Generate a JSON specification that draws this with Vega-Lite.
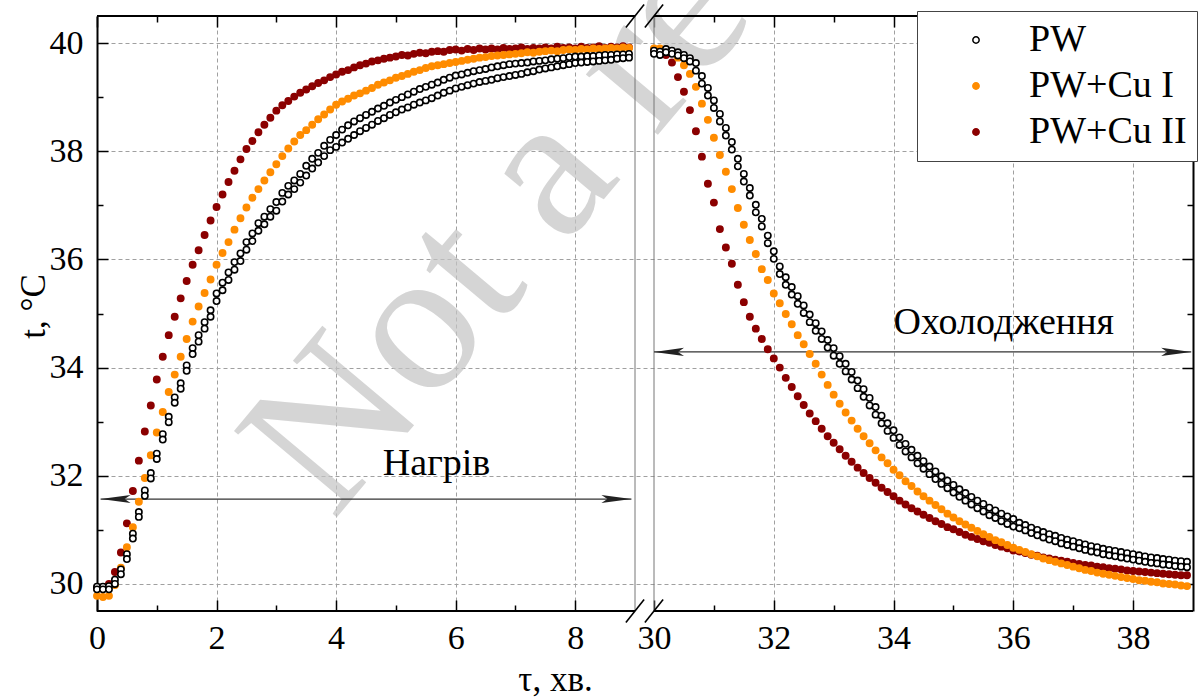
{
"$schema":"https://vega.github.io/schema/vega-lite/v6.json",
"width":1096,"height":595,
"autosize":{"type":"none"},
"padding":{"left":97,"top":16,"right":7,"bottom":89},
"background":"white",
"config":{"view":{"stroke":null},"font":"Liberation Serif"},
"datasets":{
"pts":[
{"s":"Cu2","x":0,"t":29.92},{"s":"Cu2","x":0.1,"t":29.93},{"s":"Cu2","x":0.2,"t":30.0},{"s":"Cu2","x":0.3,"t":30.22},{"s":"Cu2","x":0.4,"t":30.58},{"s":"Cu2","x":0.5,"t":31.12},{"s":"Cu2","x":0.6,"t":31.72},{"s":"Cu2","x":0.7,"t":32.28},{"s":"Cu2","x":0.8,"t":32.82},{"s":"Cu2","x":0.9,"t":33.3},
{"s":"Cu2","x":1.0,"t":33.78},{"s":"Cu2","x":1.1,"t":34.2},{"s":"Cu2","x":1.2,"t":34.6},{"s":"Cu2","x":1.3,"t":34.94},{"s":"Cu2","x":1.4,"t":35.28},{"s":"Cu2","x":1.5,"t":35.6},{"s":"Cu2","x":1.6,"t":35.9},{"s":"Cu2","x":1.7,"t":36.17},{"s":"Cu2","x":1.8,"t":36.45},{"s":"Cu2","x":1.9,"t":36.72},
{"s":"Cu2","x":2.0,"t":36.97},{"s":"Cu2","x":2.1,"t":37.2},{"s":"Cu2","x":2.2,"t":37.43},{"s":"Cu2","x":2.3,"t":37.64},{"s":"Cu2","x":2.4,"t":37.85},{"s":"Cu2","x":2.5,"t":38.04},{"s":"Cu2","x":2.6,"t":38.19},{"s":"Cu2","x":2.7,"t":38.35},{"s":"Cu2","x":2.8,"t":38.49},{"s":"Cu2","x":2.9,"t":38.62},
{"s":"Cu2","x":3.0,"t":38.75},{"s":"Cu2","x":3.1,"t":38.85},{"s":"Cu2","x":3.2,"t":38.93},{"s":"Cu2","x":3.3,"t":39.01},{"s":"Cu2","x":3.4,"t":39.08},{"s":"Cu2","x":3.5,"t":39.14},{"s":"Cu2","x":3.6,"t":39.2},{"s":"Cu2","x":3.7,"t":39.26},{"s":"Cu2","x":3.8,"t":39.31},{"s":"Cu2","x":3.9,"t":39.37},
{"s":"Cu2","x":4.0,"t":39.42},{"s":"Cu2","x":4.1,"t":39.47},{"s":"Cu2","x":4.2,"t":39.5},{"s":"Cu2","x":4.3,"t":39.55},{"s":"Cu2","x":4.4,"t":39.59},{"s":"Cu2","x":4.5,"t":39.62},{"s":"Cu2","x":4.6,"t":39.66},{"s":"Cu2","x":4.7,"t":39.68},{"s":"Cu2","x":4.8,"t":39.71},{"s":"Cu2","x":4.9,"t":39.73},
{"s":"Cu2","x":5.0,"t":39.75},{"s":"Cu2","x":5.1,"t":39.78},{"s":"Cu2","x":5.2,"t":39.77},{"s":"Cu2","x":5.3,"t":39.8},{"s":"Cu2","x":5.4,"t":39.82},{"s":"Cu2","x":5.5,"t":39.81},{"s":"Cu2","x":5.6,"t":39.84},{"s":"Cu2","x":5.7,"t":39.85},{"s":"Cu2","x":5.8,"t":39.84},{"s":"Cu2","x":5.9,"t":39.87},
{"s":"Cu2","x":6.0,"t":39.88},{"s":"Cu2","x":6.1,"t":39.86},{"s":"Cu2","x":6.2,"t":39.89},{"s":"Cu2","x":6.3,"t":39.87},{"s":"Cu2","x":6.4,"t":39.9},{"s":"Cu2","x":6.5,"t":39.88},{"s":"Cu2","x":6.6,"t":39.9},{"s":"Cu2","x":6.7,"t":39.88},{"s":"Cu2","x":6.8,"t":39.91},{"s":"Cu2","x":6.9,"t":39.89},
{"s":"Cu2","x":7.0,"t":39.9},{"s":"Cu2","x":7.1,"t":39.92},{"s":"Cu2","x":7.2,"t":39.89},{"s":"Cu2","x":7.3,"t":39.91},{"s":"Cu2","x":7.4,"t":39.9},{"s":"Cu2","x":7.5,"t":39.92},{"s":"Cu2","x":7.6,"t":39.9},{"s":"Cu2","x":7.7,"t":39.93},{"s":"Cu2","x":7.8,"t":39.91},{"s":"Cu2","x":7.9,"t":39.92},
{"s":"Cu2","x":8.0,"t":39.9},{"s":"Cu2","x":8.1,"t":39.93},{"s":"Cu2","x":8.2,"t":39.91},{"s":"Cu2","x":8.3,"t":39.92},{"s":"Cu2","x":8.4,"t":39.94},{"s":"Cu2","x":8.5,"t":39.91},{"s":"Cu2","x":8.6,"t":39.93},{"s":"Cu2","x":8.7,"t":39.92},{"s":"Cu2","x":8.8,"t":39.94},{"s":"Cu2","x":8.9,"t":39.92},
{"s":"Cu2","x":30.0,"t":39.88},{"s":"Cu2","x":30.1,"t":39.86},{"s":"Cu2","x":30.2,"t":39.78},{"s":"Cu2","x":30.3,"t":39.64},{"s":"Cu2","x":30.4,"t":39.37},{"s":"Cu2","x":30.5,"t":39.1},{"s":"Cu2","x":30.6,"t":38.76},{"s":"Cu2","x":30.7,"t":38.37},{"s":"Cu2","x":30.8,"t":37.9},{"s":"Cu2","x":30.9,"t":37.4},
{"s":"Cu2","x":31.0,"t":37.05},{"s":"Cu2","x":31.1,"t":36.56},{"s":"Cu2","x":31.2,"t":36.22},{"s":"Cu2","x":31.3,"t":35.92},{"s":"Cu2","x":31.4,"t":35.53},{"s":"Cu2","x":31.5,"t":35.21},{"s":"Cu2","x":31.6,"t":34.94},{"s":"Cu2","x":31.7,"t":34.72},{"s":"Cu2","x":31.8,"t":34.53},{"s":"Cu2","x":31.9,"t":34.34},
{"s":"Cu2","x":32.0,"t":34.17},{"s":"Cu2","x":32.1,"t":34.0},{"s":"Cu2","x":32.2,"t":33.81},{"s":"Cu2","x":32.3,"t":33.64},{"s":"Cu2","x":32.4,"t":33.47},{"s":"Cu2","x":32.5,"t":33.31},{"s":"Cu2","x":32.6,"t":33.15},{"s":"Cu2","x":32.7,"t":33.01},{"s":"Cu2","x":32.8,"t":32.87},{"s":"Cu2","x":32.9,"t":32.73},
{"s":"Cu2","x":33.0,"t":32.61},{"s":"Cu2","x":33.1,"t":32.49},{"s":"Cu2","x":33.2,"t":32.37},{"s":"Cu2","x":33.3,"t":32.26},{"s":"Cu2","x":33.4,"t":32.15},{"s":"Cu2","x":33.5,"t":32.05},{"s":"Cu2","x":33.6,"t":31.96},{"s":"Cu2","x":33.7,"t":31.87},{"s":"Cu2","x":33.8,"t":31.78},{"s":"Cu2","x":33.9,"t":31.7},
{"s":"Cu2","x":34.0,"t":31.62},{"s":"Cu2","x":34.1,"t":31.54},{"s":"Cu2","x":34.2,"t":31.47},{"s":"Cu2","x":34.3,"t":31.4},{"s":"Cu2","x":34.4,"t":31.34},{"s":"Cu2","x":34.5,"t":31.28},{"s":"Cu2","x":34.6,"t":31.22},{"s":"Cu2","x":34.7,"t":31.16},{"s":"Cu2","x":34.8,"t":31.11},{"s":"Cu2","x":34.9,"t":31.05},
{"s":"Cu2","x":35.0,"t":31.01},{"s":"Cu2","x":35.1,"t":30.96},{"s":"Cu2","x":35.2,"t":30.91},{"s":"Cu2","x":35.3,"t":30.87},{"s":"Cu2","x":35.4,"t":30.83},{"s":"Cu2","x":35.5,"t":30.79},{"s":"Cu2","x":35.6,"t":30.76},{"s":"Cu2","x":35.7,"t":30.72},{"s":"Cu2","x":35.8,"t":30.69},{"s":"Cu2","x":35.9,"t":30.66},
{"s":"Cu2","x":36.0,"t":30.62},{"s":"Cu2","x":36.1,"t":30.6},{"s":"Cu2","x":36.2,"t":30.57},{"s":"Cu2","x":36.3,"t":30.54},{"s":"Cu2","x":36.4,"t":30.52},{"s":"Cu2","x":36.5,"t":30.49},{"s":"Cu2","x":36.6,"t":30.47},{"s":"Cu2","x":36.7,"t":30.45},{"s":"Cu2","x":36.8,"t":30.43},{"s":"Cu2","x":36.9,"t":30.41},
{"s":"Cu2","x":37.0,"t":30.39},{"s":"Cu2","x":37.1,"t":30.37},{"s":"Cu2","x":37.2,"t":30.35},{"s":"Cu2","x":37.3,"t":30.34},{"s":"Cu2","x":37.4,"t":30.32},{"s":"Cu2","x":37.5,"t":30.31},{"s":"Cu2","x":37.6,"t":30.29},{"s":"Cu2","x":37.7,"t":30.28},{"s":"Cu2","x":37.8,"t":30.27},{"s":"Cu2","x":37.9,"t":30.25},
{"s":"Cu2","x":38.0,"t":30.24},{"s":"Cu2","x":38.1,"t":30.23},{"s":"Cu2","x":38.2,"t":30.22},{"s":"Cu2","x":38.3,"t":30.21},{"s":"Cu2","x":38.4,"t":30.2},{"s":"Cu2","x":38.5,"t":30.19},{"s":"Cu2","x":38.6,"t":30.18},{"s":"Cu2","x":38.7,"t":30.17},{"s":"Cu2","x":38.8,"t":30.16},{"s":"Cu2","x":38.9,"t":30.16},
{"s":"Cu1","x":0,"t":29.78},{"s":"Cu1","x":0.1,"t":29.76},{"s":"Cu1","x":0.2,"t":29.78},{"s":"Cu1","x":0.3,"t":29.98},{"s":"Cu1","x":0.4,"t":30.3},{"s":"Cu1","x":0.5,"t":30.68},{"s":"Cu1","x":0.6,"t":31.05},{"s":"Cu1","x":0.7,"t":31.52},{"s":"Cu1","x":0.8,"t":31.96},{"s":"Cu1","x":0.9,"t":32.38},
{"s":"Cu1","x":1.0,"t":32.8},{"s":"Cu1","x":1.1,"t":33.18},{"s":"Cu1","x":1.2,"t":33.55},{"s":"Cu1","x":1.3,"t":33.87},{"s":"Cu1","x":1.4,"t":34.2},{"s":"Cu1","x":1.5,"t":34.53},{"s":"Cu1","x":1.6,"t":34.85},{"s":"Cu1","x":1.7,"t":35.13},{"s":"Cu1","x":1.8,"t":35.38},{"s":"Cu1","x":1.9,"t":35.63},
{"s":"Cu1","x":2.0,"t":35.9},{"s":"Cu1","x":2.1,"t":36.12},{"s":"Cu1","x":2.2,"t":36.32},{"s":"Cu1","x":2.3,"t":36.55},{"s":"Cu1","x":2.4,"t":36.76},{"s":"Cu1","x":2.5,"t":36.96},{"s":"Cu1","x":2.6,"t":37.14},{"s":"Cu1","x":2.7,"t":37.3},{"s":"Cu1","x":2.8,"t":37.46},{"s":"Cu1","x":2.9,"t":37.61},
{"s":"Cu1","x":3.0,"t":37.76},{"s":"Cu1","x":3.1,"t":37.91},{"s":"Cu1","x":3.2,"t":38.05},{"s":"Cu1","x":3.3,"t":38.18},{"s":"Cu1","x":3.4,"t":38.3},{"s":"Cu1","x":3.5,"t":38.39},{"s":"Cu1","x":3.6,"t":38.49},{"s":"Cu1","x":3.7,"t":38.59},{"s":"Cu1","x":3.8,"t":38.68},{"s":"Cu1","x":3.9,"t":38.77},
{"s":"Cu1","x":4.0,"t":38.86},{"s":"Cu1","x":4.1,"t":38.92},{"s":"Cu1","x":4.2,"t":38.97},{"s":"Cu1","x":4.3,"t":39.03},{"s":"Cu1","x":4.4,"t":39.07},{"s":"Cu1","x":4.5,"t":39.12},{"s":"Cu1","x":4.6,"t":39.17},{"s":"Cu1","x":4.7,"t":39.23},{"s":"Cu1","x":4.8,"t":39.27},{"s":"Cu1","x":4.9,"t":39.31},
{"s":"Cu1","x":5.0,"t":39.36},{"s":"Cu1","x":5.1,"t":39.39},{"s":"Cu1","x":5.2,"t":39.43},{"s":"Cu1","x":5.3,"t":39.47},{"s":"Cu1","x":5.4,"t":39.5},{"s":"Cu1","x":5.5,"t":39.54},{"s":"Cu1","x":5.6,"t":39.57},{"s":"Cu1","x":5.7,"t":39.59},{"s":"Cu1","x":5.8,"t":39.61},{"s":"Cu1","x":5.9,"t":39.63},
{"s":"Cu1","x":6.0,"t":39.65},{"s":"Cu1","x":6.1,"t":39.67},{"s":"Cu1","x":6.2,"t":39.69},{"s":"Cu1","x":6.3,"t":39.71},{"s":"Cu1","x":6.4,"t":39.73},{"s":"Cu1","x":6.5,"t":39.74},{"s":"Cu1","x":6.6,"t":39.76},{"s":"Cu1","x":6.7,"t":39.77},{"s":"Cu1","x":6.8,"t":39.78},{"s":"Cu1","x":6.9,"t":39.79},
{"s":"Cu1","x":7.0,"t":39.8},{"s":"Cu1","x":7.1,"t":39.81},{"s":"Cu1","x":7.2,"t":39.83},{"s":"Cu1","x":7.3,"t":39.82},{"s":"Cu1","x":7.4,"t":39.84},{"s":"Cu1","x":7.5,"t":39.85},{"s":"Cu1","x":7.6,"t":39.86},{"s":"Cu1","x":7.7,"t":39.85},{"s":"Cu1","x":7.8,"t":39.87},{"s":"Cu1","x":7.9,"t":39.88},
{"s":"Cu1","x":8.0,"t":39.87},{"s":"Cu1","x":8.1,"t":39.89},{"s":"Cu1","x":8.2,"t":39.88},{"s":"Cu1","x":8.3,"t":39.9},{"s":"Cu1","x":8.4,"t":39.89},{"s":"Cu1","x":8.5,"t":39.9},{"s":"Cu1","x":8.6,"t":39.91},{"s":"Cu1","x":8.7,"t":39.9},{"s":"Cu1","x":8.8,"t":39.92},{"s":"Cu1","x":8.9,"t":39.91},
{"s":"Cu1","x":30.0,"t":39.9},{"s":"Cu1","x":30.1,"t":39.9},{"s":"Cu1","x":30.2,"t":39.88},{"s":"Cu1","x":30.3,"t":39.82},{"s":"Cu1","x":30.4,"t":39.73},{"s":"Cu1","x":30.5,"t":39.59},{"s":"Cu1","x":30.6,"t":39.43},{"s":"Cu1","x":30.7,"t":39.19},{"s":"Cu1","x":30.8,"t":38.88},{"s":"Cu1","x":30.9,"t":38.58},
{"s":"Cu1","x":31.0,"t":38.25},{"s":"Cu1","x":31.1,"t":37.93},{"s":"Cu1","x":31.2,"t":37.62},{"s":"Cu1","x":31.3,"t":37.3},{"s":"Cu1","x":31.4,"t":36.95},{"s":"Cu1","x":31.5,"t":36.64},{"s":"Cu1","x":31.6,"t":36.36},{"s":"Cu1","x":31.7,"t":36.1},{"s":"Cu1","x":31.8,"t":35.82},{"s":"Cu1","x":31.9,"t":35.62},
{"s":"Cu1","x":32.0,"t":35.37},{"s":"Cu1","x":32.1,"t":35.19},{"s":"Cu1","x":32.2,"t":34.99},{"s":"Cu1","x":32.3,"t":34.8},{"s":"Cu1","x":32.4,"t":34.6},{"s":"Cu1","x":32.5,"t":34.43},{"s":"Cu1","x":32.6,"t":34.25},{"s":"Cu1","x":32.7,"t":34.07},{"s":"Cu1","x":32.8,"t":33.87},{"s":"Cu1","x":32.9,"t":33.68},
{"s":"Cu1","x":33.0,"t":33.5},{"s":"Cu1","x":33.1,"t":33.33},{"s":"Cu1","x":33.2,"t":33.17},{"s":"Cu1","x":33.3,"t":33.02},{"s":"Cu1","x":33.4,"t":32.87},{"s":"Cu1","x":33.5,"t":32.73},{"s":"Cu1","x":33.6,"t":32.6},{"s":"Cu1","x":33.7,"t":32.47},{"s":"Cu1","x":33.8,"t":32.34},{"s":"Cu1","x":33.9,"t":32.23},
{"s":"Cu1","x":34.0,"t":32.11},{"s":"Cu1","x":34.1,"t":32.01},{"s":"Cu1","x":34.2,"t":31.9},{"s":"Cu1","x":34.3,"t":31.81},{"s":"Cu1","x":34.4,"t":31.71},{"s":"Cu1","x":34.5,"t":31.62},{"s":"Cu1","x":34.6,"t":31.54},{"s":"Cu1","x":34.7,"t":31.46},{"s":"Cu1","x":34.8,"t":31.38},{"s":"Cu1","x":34.9,"t":31.3},
{"s":"Cu1","x":35.0,"t":31.23},{"s":"Cu1","x":35.1,"t":31.16},{"s":"Cu1","x":35.2,"t":31.1},{"s":"Cu1","x":35.3,"t":31.04},{"s":"Cu1","x":35.4,"t":30.98},{"s":"Cu1","x":35.5,"t":30.92},{"s":"Cu1","x":35.6,"t":30.87},{"s":"Cu1","x":35.7,"t":30.81},{"s":"Cu1","x":35.8,"t":30.77},{"s":"Cu1","x":35.9,"t":30.72},
{"s":"Cu1","x":36.0,"t":30.67},{"s":"Cu1","x":36.1,"t":30.63},{"s":"Cu1","x":36.2,"t":30.59},{"s":"Cu1","x":36.3,"t":30.55},{"s":"Cu1","x":36.4,"t":30.51},{"s":"Cu1","x":36.5,"t":30.47},{"s":"Cu1","x":36.6,"t":30.44},{"s":"Cu1","x":36.7,"t":30.41},{"s":"Cu1","x":36.8,"t":30.38},{"s":"Cu1","x":36.9,"t":30.35},
{"s":"Cu1","x":37.0,"t":30.32},{"s":"Cu1","x":37.1,"t":30.29},{"s":"Cu1","x":37.2,"t":30.26},{"s":"Cu1","x":37.3,"t":30.24},{"s":"Cu1","x":37.4,"t":30.21},{"s":"Cu1","x":37.5,"t":30.19},{"s":"Cu1","x":37.6,"t":30.17},{"s":"Cu1","x":37.7,"t":30.15},{"s":"Cu1","x":37.8,"t":30.13},{"s":"Cu1","x":37.9,"t":30.11},
{"s":"Cu1","x":38.0,"t":30.09},{"s":"Cu1","x":38.1,"t":30.07},{"s":"Cu1","x":38.2,"t":30.06},{"s":"Cu1","x":38.3,"t":30.04},{"s":"Cu1","x":38.4,"t":30.03},{"s":"Cu1","x":38.5,"t":30.01},{"s":"Cu1","x":38.6,"t":30.0},{"s":"Cu1","x":38.7,"t":29.99},{"s":"Cu1","x":38.8,"t":29.97},{"s":"Cu1","x":38.9,"t":29.96},
{"s":"PW","x":0,"t":29.95},{"s":"PW","x":0,"t":29.9},{"s":"PW","x":0.1,"t":29.95},{"s":"PW","x":0.1,"t":29.9},{"s":"PW","x":0.2,"t":29.96},{"s":"PW","x":0.2,"t":29.9},{"s":"PW","x":0.3,"t":30.08},{"s":"PW","x":0.3,"t":30.0},{"s":"PW","x":0.4,"t":30.27},{"s":"PW","x":0.4,"t":30.18},
{"s":"PW","x":0.5,"t":30.55},{"s":"PW","x":0.5,"t":30.46},{"s":"PW","x":0.6,"t":30.93},{"s":"PW","x":0.6,"t":30.84},{"s":"PW","x":0.7,"t":31.33},{"s":"PW","x":0.7,"t":31.24},{"s":"PW","x":0.8,"t":31.73},{"s":"PW","x":0.8,"t":31.63},{"s":"PW","x":0.9,"t":32.05},{"s":"PW","x":0.9,"t":31.95},
{"s":"PW","x":1.0,"t":32.41},{"s":"PW","x":1.0,"t":32.31},{"s":"PW","x":1.1,"t":32.77},{"s":"PW","x":1.1,"t":32.67},{"s":"PW","x":1.2,"t":33.09},{"s":"PW","x":1.2,"t":32.99},{"s":"PW","x":1.3,"t":33.45},{"s":"PW","x":1.3,"t":33.35},{"s":"PW","x":1.4,"t":33.71},{"s":"PW","x":1.4,"t":33.61},
{"s":"PW","x":1.5,"t":34.04},{"s":"PW","x":1.5,"t":33.94},{"s":"PW","x":1.6,"t":34.36},{"s":"PW","x":1.6,"t":34.25},{"s":"PW","x":1.7,"t":34.6},{"s":"PW","x":1.7,"t":34.48},{"s":"PW","x":1.8,"t":34.84},{"s":"PW","x":1.8,"t":34.72},{"s":"PW","x":1.9,"t":35.06},{"s":"PW","x":1.9,"t":34.94},
{"s":"PW","x":2.0,"t":35.37},{"s":"PW","x":2.0,"t":35.23},{"s":"PW","x":2.1,"t":35.57},{"s":"PW","x":2.1,"t":35.43},{"s":"PW","x":2.2,"t":35.76},{"s":"PW","x":2.2,"t":35.62},{"s":"PW","x":2.3,"t":35.95},{"s":"PW","x":2.3,"t":35.81},{"s":"PW","x":2.4,"t":36.11},{"s":"PW","x":2.4,"t":35.97},
{"s":"PW","x":2.5,"t":36.32},{"s":"PW","x":2.5,"t":36.18},{"s":"PW","x":2.6,"t":36.48},{"s":"PW","x":2.6,"t":36.34},{"s":"PW","x":2.7,"t":36.67},{"s":"PW","x":2.7,"t":36.53},{"s":"PW","x":2.8,"t":36.79},{"s":"PW","x":2.8,"t":36.65},{"s":"PW","x":2.9,"t":36.93},{"s":"PW","x":2.9,"t":36.79},
{"s":"PW","x":3.0,"t":37.06},{"s":"PW","x":3.0,"t":36.9},{"s":"PW","x":3.1,"t":37.23},{"s":"PW","x":3.1,"t":37.07},{"s":"PW","x":3.2,"t":37.36},{"s":"PW","x":3.2,"t":37.2},{"s":"PW","x":3.3,"t":37.46},{"s":"PW","x":3.3,"t":37.3},{"s":"PW","x":3.4,"t":37.58},{"s":"PW","x":3.4,"t":37.42},
{"s":"PW","x":3.5,"t":37.73},{"s":"PW","x":3.5,"t":37.55},{"s":"PW","x":3.6,"t":37.86},{"s":"PW","x":3.6,"t":37.68},{"s":"PW","x":3.7,"t":37.97},{"s":"PW","x":3.7,"t":37.79},{"s":"PW","x":3.8,"t":38.1},{"s":"PW","x":3.8,"t":37.91},{"s":"PW","x":3.9,"t":38.21},{"s":"PW","x":3.9,"t":38.02},
{"s":"PW","x":4.0,"t":38.3},{"s":"PW","x":4.0,"t":38.08},{"s":"PW","x":4.1,"t":38.4},{"s":"PW","x":4.1,"t":38.16},{"s":"PW","x":4.2,"t":38.48},{"s":"PW","x":4.2,"t":38.23},{"s":"PW","x":4.3,"t":38.55},{"s":"PW","x":4.3,"t":38.3},{"s":"PW","x":4.4,"t":38.61},{"s":"PW","x":4.4,"t":38.37},
{"s":"PW","x":4.5,"t":38.67},{"s":"PW","x":4.5,"t":38.43},{"s":"PW","x":4.6,"t":38.73},{"s":"PW","x":4.6,"t":38.49},{"s":"PW","x":4.7,"t":38.79},{"s":"PW","x":4.7,"t":38.56},{"s":"PW","x":4.8,"t":38.84},{"s":"PW","x":4.8,"t":38.61},{"s":"PW","x":4.9,"t":38.9},{"s":"PW","x":4.9,"t":38.67},
{"s":"PW","x":5.0,"t":38.95},{"s":"PW","x":5.0,"t":38.72},{"s":"PW","x":5.1,"t":39.0},{"s":"PW","x":5.1,"t":38.77},{"s":"PW","x":5.2,"t":39.05},{"s":"PW","x":5.2,"t":38.81},{"s":"PW","x":5.3,"t":39.1},{"s":"PW","x":5.3,"t":38.86},{"s":"PW","x":5.4,"t":39.15},{"s":"PW","x":5.4,"t":38.9},
{"s":"PW","x":5.5,"t":39.19},{"s":"PW","x":5.5,"t":38.94},{"s":"PW","x":5.6,"t":39.23},{"s":"PW","x":5.6,"t":38.98},{"s":"PW","x":5.7,"t":39.27},{"s":"PW","x":5.7,"t":39.03},{"s":"PW","x":5.8,"t":39.32},{"s":"PW","x":5.8,"t":39.08},{"s":"PW","x":5.9,"t":39.36},{"s":"PW","x":5.9,"t":39.12},
{"s":"PW","x":6.0,"t":39.4},{"s":"PW","x":6.0,"t":39.16},{"s":"PW","x":6.1,"t":39.42},{"s":"PW","x":6.1,"t":39.19},{"s":"PW","x":6.2,"t":39.45},{"s":"PW","x":6.2,"t":39.22},{"s":"PW","x":6.3,"t":39.48},{"s":"PW","x":6.3,"t":39.25},{"s":"PW","x":6.4,"t":39.5},{"s":"PW","x":6.4,"t":39.28},
{"s":"PW","x":6.5,"t":39.52},{"s":"PW","x":6.5,"t":39.3},{"s":"PW","x":6.6,"t":39.55},{"s":"PW","x":6.6,"t":39.32},{"s":"PW","x":6.7,"t":39.57},{"s":"PW","x":6.7,"t":39.35},{"s":"PW","x":6.8,"t":39.59},{"s":"PW","x":6.8,"t":39.37},{"s":"PW","x":6.9,"t":39.61},{"s":"PW","x":6.9,"t":39.39},
{"s":"PW","x":7.0,"t":39.62},{"s":"PW","x":7.0,"t":39.41},{"s":"PW","x":7.1,"t":39.63},{"s":"PW","x":7.1,"t":39.43},{"s":"PW","x":7.2,"t":39.64},{"s":"PW","x":7.2,"t":39.46},{"s":"PW","x":7.3,"t":39.66},{"s":"PW","x":7.3,"t":39.48},{"s":"PW","x":7.4,"t":39.67},{"s":"PW","x":7.4,"t":39.51},
{"s":"PW","x":7.5,"t":39.68},{"s":"PW","x":7.5,"t":39.53},{"s":"PW","x":7.6,"t":39.7},{"s":"PW","x":7.6,"t":39.55},{"s":"PW","x":7.7,"t":39.71},{"s":"PW","x":7.7,"t":39.57},{"s":"PW","x":7.8,"t":39.72},{"s":"PW","x":7.8,"t":39.59},{"s":"PW","x":7.9,"t":39.74},{"s":"PW","x":7.9,"t":39.61},
{"s":"PW","x":8.0,"t":39.75},{"s":"PW","x":8.0,"t":39.63},{"s":"PW","x":8.1,"t":39.75},{"s":"PW","x":8.1,"t":39.64},{"s":"PW","x":8.2,"t":39.76},{"s":"PW","x":8.2,"t":39.65},{"s":"PW","x":8.3,"t":39.76},{"s":"PW","x":8.3,"t":39.66},{"s":"PW","x":8.4,"t":39.77},{"s":"PW","x":8.4,"t":39.67},
{"s":"PW","x":8.5,"t":39.78},{"s":"PW","x":8.5,"t":39.68},{"s":"PW","x":8.6,"t":39.78},{"s":"PW","x":8.6,"t":39.69},{"s":"PW","x":8.7,"t":39.79},{"s":"PW","x":8.7,"t":39.71},{"s":"PW","x":8.8,"t":39.79},{"s":"PW","x":8.8,"t":39.72},{"s":"PW","x":8.9,"t":39.8},{"s":"PW","x":8.9,"t":39.73},
{"s":"PW","x":30.0,"t":39.86},{"s":"PW","x":30.0,"t":39.8},{"s":"PW","x":30.1,"t":39.84},{"s":"PW","x":30.1,"t":39.78},{"s":"PW","x":30.2,"t":39.89},{"s":"PW","x":30.2,"t":39.83},{"s":"PW","x":30.3,"t":39.86},{"s":"PW","x":30.3,"t":39.8},{"s":"PW","x":30.4,"t":39.83},{"s":"PW","x":30.4,"t":39.77},
{"s":"PW","x":30.5,"t":39.78},{"s":"PW","x":30.5,"t":39.72},{"s":"PW","x":30.6,"t":39.72},{"s":"PW","x":30.6,"t":39.66},{"s":"PW","x":30.7,"t":39.63},{"s":"PW","x":30.7,"t":39.49},{"s":"PW","x":30.8,"t":39.39},{"s":"PW","x":30.8,"t":39.25},{"s":"PW","x":30.9,"t":39.17},{"s":"PW","x":30.9,"t":39.03},
{"s":"PW","x":31.0,"t":38.94},{"s":"PW","x":31.0,"t":38.8},{"s":"PW","x":31.1,"t":38.69},{"s":"PW","x":31.1,"t":38.55},{"s":"PW","x":31.2,"t":38.43},{"s":"PW","x":31.2,"t":38.29},{"s":"PW","x":31.3,"t":38.17},{"s":"PW","x":31.3,"t":38.03},{"s":"PW","x":31.4,"t":37.86},{"s":"PW","x":31.4,"t":37.72},
{"s":"PW","x":31.5,"t":37.58},{"s":"PW","x":31.5,"t":37.44},{"s":"PW","x":31.6,"t":37.32},{"s":"PW","x":31.6,"t":37.18},{"s":"PW","x":31.7,"t":37.01},{"s":"PW","x":31.7,"t":36.87},{"s":"PW","x":31.8,"t":36.75},{"s":"PW","x":31.8,"t":36.61},{"s":"PW","x":31.9,"t":36.44},{"s":"PW","x":31.9,"t":36.3},
{"s":"PW","x":32.0,"t":36.15},{"s":"PW","x":32.0,"t":36.01},{"s":"PW","x":32.1,"t":35.87},{"s":"PW","x":32.1,"t":35.73},{"s":"PW","x":32.2,"t":35.67},{"s":"PW","x":32.2,"t":35.53},{"s":"PW","x":32.3,"t":35.49},{"s":"PW","x":32.3,"t":35.35},{"s":"PW","x":32.4,"t":35.32},{"s":"PW","x":32.4,"t":35.18},
{"s":"PW","x":32.5,"t":35.15},{"s":"PW","x":32.5,"t":35.01},{"s":"PW","x":32.6,"t":34.98},{"s":"PW","x":32.6,"t":34.84},{"s":"PW","x":32.7,"t":34.82},{"s":"PW","x":32.7,"t":34.68},{"s":"PW","x":32.8,"t":34.67},{"s":"PW","x":32.8,"t":34.53},{"s":"PW","x":32.9,"t":34.51},{"s":"PW","x":32.9,"t":34.37},
{"s":"PW","x":33.0,"t":34.36},{"s":"PW","x":33.0,"t":34.22},{"s":"PW","x":33.1,"t":34.21},{"s":"PW","x":33.1,"t":34.07},{"s":"PW","x":33.2,"t":34.07},{"s":"PW","x":33.2,"t":33.93},{"s":"PW","x":33.3,"t":33.92},{"s":"PW","x":33.3,"t":33.78},{"s":"PW","x":33.4,"t":33.76},{"s":"PW","x":33.4,"t":33.62},
{"s":"PW","x":33.5,"t":33.6},{"s":"PW","x":33.5,"t":33.46},{"s":"PW","x":33.6,"t":33.44},{"s":"PW","x":33.6,"t":33.3},{"s":"PW","x":33.7,"t":33.27},{"s":"PW","x":33.7,"t":33.13},{"s":"PW","x":33.8,"t":33.11},{"s":"PW","x":33.8,"t":32.97},{"s":"PW","x":33.9,"t":32.97},{"s":"PW","x":33.9,"t":32.83},
{"s":"PW","x":34.0,"t":32.84},{"s":"PW","x":34.0,"t":32.7},{"s":"PW","x":34.1,"t":32.71},{"s":"PW","x":34.1,"t":32.57},{"s":"PW","x":34.2,"t":32.59},{"s":"PW","x":34.2,"t":32.45},{"s":"PW","x":34.3,"t":32.48},{"s":"PW","x":34.3,"t":32.34},{"s":"PW","x":34.4,"t":32.37},{"s":"PW","x":34.4,"t":32.23},
{"s":"PW","x":34.5,"t":32.27},{"s":"PW","x":34.5,"t":32.13},{"s":"PW","x":34.6,"t":32.17},{"s":"PW","x":34.6,"t":32.03},{"s":"PW","x":34.7,"t":32.08},{"s":"PW","x":34.7,"t":31.94},{"s":"PW","x":34.8,"t":31.99},{"s":"PW","x":34.8,"t":31.85},{"s":"PW","x":34.9,"t":31.91},{"s":"PW","x":34.9,"t":31.77},
{"s":"PW","x":35.0,"t":31.83},{"s":"PW","x":35.0,"t":31.69},{"s":"PW","x":35.1,"t":31.75},{"s":"PW","x":35.1,"t":31.61},{"s":"PW","x":35.2,"t":31.68},{"s":"PW","x":35.2,"t":31.54},{"s":"PW","x":35.3,"t":31.61},{"s":"PW","x":35.3,"t":31.47},{"s":"PW","x":35.4,"t":31.54},{"s":"PW","x":35.4,"t":31.4},
{"s":"PW","x":35.5,"t":31.48},{"s":"PW","x":35.5,"t":31.34},{"s":"PW","x":35.6,"t":31.41},{"s":"PW","x":35.6,"t":31.27},{"s":"PW","x":35.7,"t":31.36},{"s":"PW","x":35.7,"t":31.22},{"s":"PW","x":35.8,"t":31.3},{"s":"PW","x":35.8,"t":31.16},{"s":"PW","x":35.9,"t":31.25},{"s":"PW","x":35.9,"t":31.11},
{"s":"PW","x":36.0,"t":31.2},{"s":"PW","x":36.0,"t":31.06},{"s":"PW","x":36.1,"t":31.13},{"s":"PW","x":36.1,"t":31.03},{"s":"PW","x":36.2,"t":31.09},{"s":"PW","x":36.2,"t":30.99},{"s":"PW","x":36.3,"t":31.04},{"s":"PW","x":36.3,"t":30.94},{"s":"PW","x":36.4,"t":31.0},{"s":"PW","x":36.4,"t":30.9},
{"s":"PW","x":36.5,"t":30.96},{"s":"PW","x":36.5,"t":30.86},{"s":"PW","x":36.6,"t":30.92},{"s":"PW","x":36.6,"t":30.82},{"s":"PW","x":36.7,"t":30.89},{"s":"PW","x":36.7,"t":30.79},{"s":"PW","x":36.8,"t":30.85},{"s":"PW","x":36.8,"t":30.75},{"s":"PW","x":36.9,"t":30.82},{"s":"PW","x":36.9,"t":30.72},
{"s":"PW","x":37.0,"t":30.79},{"s":"PW","x":37.0,"t":30.69},{"s":"PW","x":37.1,"t":30.76},{"s":"PW","x":37.1,"t":30.66},{"s":"PW","x":37.2,"t":30.73},{"s":"PW","x":37.2,"t":30.63},{"s":"PW","x":37.3,"t":30.7},{"s":"PW","x":37.3,"t":30.6},{"s":"PW","x":37.4,"t":30.68},{"s":"PW","x":37.4,"t":30.58},
{"s":"PW","x":37.5,"t":30.65},{"s":"PW","x":37.5,"t":30.55},{"s":"PW","x":37.6,"t":30.63},{"s":"PW","x":37.6,"t":30.53},{"s":"PW","x":37.7,"t":30.61},{"s":"PW","x":37.7,"t":30.51},{"s":"PW","x":37.8,"t":30.59},{"s":"PW","x":37.8,"t":30.49},{"s":"PW","x":37.9,"t":30.57},{"s":"PW","x":37.9,"t":30.47},
{"s":"PW","x":38.0,"t":30.55},{"s":"PW","x":38.0,"t":30.45},{"s":"PW","x":38.1,"t":30.53},{"s":"PW","x":38.1,"t":30.43},{"s":"PW","x":38.2,"t":30.51},{"s":"PW","x":38.2,"t":30.41},{"s":"PW","x":38.3,"t":30.49},{"s":"PW","x":38.3,"t":30.39},{"s":"PW","x":38.4,"t":30.48},{"s":"PW","x":38.4,"t":30.38},
{"s":"PW","x":38.5,"t":30.46},{"s":"PW","x":38.5,"t":30.36},{"s":"PW","x":38.6,"t":30.45},{"s":"PW","x":38.6,"t":30.35},{"s":"PW","x":38.7,"t":30.43},{"s":"PW","x":38.7,"t":30.33},{"s":"PW","x":38.8,"t":30.42},{"s":"PW","x":38.8,"t":30.32},{"s":"PW","x":38.9,"t":30.41},{"s":"PW","x":38.9,"t":30.31}
]},
"layer":[
{"data":{"values":[{"x":3.95,"t":31.15,"label":"Not a review"}]},
 "mark":{"type":"text","font":"Liberation Serif","fontSize":205,"angle":-50,"align":"left","baseline":"alphabetic","color":"#c4c4c4","opacity":0.7},
 "encoding":{"x":{"field":"x","type":"quantitative","axis":null},"y":{"field":"t","type":"quantitative","axis":null},"text":{"field":"label"}}},
{"data":{"values":[{"x":9,"t":29.5,"t2":40.5},{"x":30,"t":29.5,"t2":40.5}]},
 "mark":{"type":"rule","color":"#777777","strokeWidth":1},
 "encoding":{"x":{"field":"x","type":"quantitative","axis":null},"y":{"field":"t","type":"quantitative","axis":null},"y2":{"field":"t2"}}},
{"data":{"values":[{"x":0,"x2":9,"t":29.5},{"x":30,"x2":39,"t":29.5},{"x":0,"x2":9,"t":40.5},{"x":30,"x2":39,"t":40.5}]},
 "mark":{"type":"rule","color":"#000000","strokeWidth":2},
 "encoding":{
  "x":{"field":"x","type":"quantitative","axis":{"orient":"top","values":[0,1,2,3,4,5,6,7,8,30,31,32,33,34,35,36,37,38],"labels":false,"tickColor":"#000","tickWidth":1.5,"tickSize":{"condition":{"test":"datum.value % 2 == 0","value":-11},"value":-6},"grid":false,"domain":false,"title":null}},
  "x2":{"field":"x2"},
  "y":{"field":"t","type":"quantitative","axis":{"orient":"right","values":[30,31,32,33,34,35,36,37,38,39,40],"labels":false,"tickColor":"#000","tickWidth":1.5,"tickSize":{"condition":{"test":"datum.value % 2 == 0","value":-11},"value":-6},"grid":false,"domain":true,"domainColor":"#000","domainWidth":2,"title":null}}}},
{"data":{"values":[{"x":0.06,"x2":8.94,"t":31.57},{"x":30.0,"x2":38.97,"t":34.29}]},
 "mark":{"type":"rule","color":"#333333","strokeWidth":1.2},
 "encoding":{"x":{"field":"x","type":"quantitative","axis":null},"x2":{"field":"x2"},"y":{"field":"t","type":"quantitative","axis":null}}},
{"data":{"values":[{"x":0.06,"t":31.57,"d":"l"},{"x":8.94,"t":31.57,"d":"r"},{"x":30.0,"t":34.29,"d":"l"},{"x":38.97,"t":34.29,"d":"r"}]},
 "mark":{"type":"point","filled":true,"size":900,"color":"#222222","strokeWidth":0,"opacity":1},
 "encoding":{"x":{"field":"x","type":"quantitative","axis":null},"y":{"field":"t","type":"quantitative","axis":null},
  "shape":{"field":"d","type":"nominal","scale":{"domain":["l","r"],"range":["M0,0L2,-0.27L1.6,0L2,0.27Z","M0,0L-2,-0.27L-1.6,0L-2,0.27Z"]},"legend":null}}},
{"data":{"values":[{"x":9,"t":29.5},{"x":30,"t":29.5},{"x":9,"t":40.5},{"x":30,"t":40.5}]},
 "mark":{"type":"point","filled":false,"shape":"M-0.8,1L0.8,-1","size":520,"stroke":"#000000","strokeWidth":1.6,"opacity":1},
 "encoding":{"x":{"field":"x","type":"quantitative","axis":null},"y":{"field":"t","type":"quantitative","axis":null}}},
{"data":{"values":[{"x":5.68,"t":32.01,"label":"Нагрів"},{"x":35.84,"t":34.63,"label":"Охолодження"}]},
 "mark":{"type":"text","font":"Liberation Serif","fontSize":38,"align":"center","baseline":"alphabetic","color":"#000000"},
 "encoding":{"x":{"field":"x","type":"quantitative","axis":null},"y":{"field":"t","type":"quantitative","axis":null},"text":{"field":"label"}}},
{"data":{"name":"pts"},
 "mark":{"type":"point","shape":"circle","filled":true,"size":40,"strokeWidth":1.6,"opacity":1},
 "encoding":{
  "x":{"field":"x","type":"quantitative",
   "scale":{"domain":[0,9,30,39],"range":[0,538,557,1096],"nice":false,"zero":false},
   "axis":{"orient":"bottom","values":[0,1,2,3,4,5,6,7,8,30,31,32,33,34,35,36,37,38],"labelExpr":"datum.value % 2 == 0 ? datum.label : ''","labelFont":"Liberation Serif","labelFontSize":34,"labelColor":"#000","labelPadding":21,"labelFlush":false,"labelOverlap":false,"labelBound":false,"tickColor":"#000","tickWidth":1.5,"tickSize":{"condition":{"test":"datum.value % 2 == 0","value":-11},"value":-6},"grid":true,"gridColor":"#a0a0a0","gridDash":[4,3],"gridWidth":1,"gridOpacity":{"condition":{"test":"datum.value % 2 == 0 && datum.value != 0 && datum.value != 30","value":1},"value":0},"domain":false,"title":"τ, хв.","titleFont":"Liberation Serif","titleFontSize":35,"titleFontWeight":"normal","titleColor":"#000","titleX":458,"titleY":79,"titleBaseline":"alphabetic","titleAlign":"center"}},
  "y":{"field":"t","type":"quantitative",
   "scale":{"domain":[29.5,40.5],"nice":false,"zero":false},
   "axis":{"orient":"left","values":[30,31,32,33,34,35,36,37,38,39,40],"labelExpr":"datum.value % 2 == 0 ? datum.label : ''","labelFont":"Liberation Serif","labelFontSize":34,"labelColor":"#000","labelPadding":25,"labelOverlap":false,"labelBound":false,"labelFlush":false,"tickColor":"#000","tickWidth":1.5,"tickSize":{"condition":{"test":"datum.value % 2 == 0","value":-11},"value":-6},"grid":true,"gridColor":"#a0a0a0","gridDash":[4,3],"gridWidth":1,"gridOpacity":{"condition":{"test":"datum.value % 2 == 0","value":1},"value":0},"domain":true,"domainColor":"#000","domainWidth":2,"title":"t, °C","titleFont":"Liberation Serif","titleFontSize":35,"titleFontWeight":"normal","titleColor":"#000","titleAngle":-90,"titleX":-53,"titleY":290,"titleBaseline":"alphabetic","titleAlign":"center"}},
  "fill":{"field":"s","type":"nominal","scale":{"domain":["PW","Cu1","Cu2"],"range":["#ffffff","#ff8c00","#8b0000"]},
   "legend":{"title":null,"orient":"none","legendX":820,"legendY":-5,"padding":10,"strokeColor":"#444444","fillColor":"#ffffff","labelFont":"Liberation Serif","labelFontSize":38,"labelColor":"#000","symbolType":"circle","symbolSize":40,"symbolStrokeWidth":1.5,"symbolOffset":30,"labelOffset":34,"rowPadding":8,"labelLimit":400,"labelExpr":"datum.label == 'PW' ? 'PW' : datum.label == 'Cu1' ? 'PW+Cu I' : 'PW+Cu II'"}},
  "stroke":{"field":"s","type":"nominal","scale":{"domain":["PW","Cu1","Cu2"],"range":["#000000","#ff8c00","#8b0000"]},
   "legend":{"title":null,"orient":"none","legendX":820,"legendY":-5,"padding":10,"strokeColor":"#444444","fillColor":"#ffffff","labelFont":"Liberation Serif","labelFontSize":38,"labelColor":"#000","symbolType":"circle","symbolSize":40,"symbolStrokeWidth":1.5,"symbolOffset":30,"labelOffset":34,"rowPadding":8,"labelLimit":400,"labelExpr":"datum.label == 'PW' ? 'PW' : datum.label == 'Cu1' ? 'PW+Cu I' : 'PW+Cu II'"}}
 }}
],
"resolve":{"axis":{"x":"independent","y":"independent"}}
}
